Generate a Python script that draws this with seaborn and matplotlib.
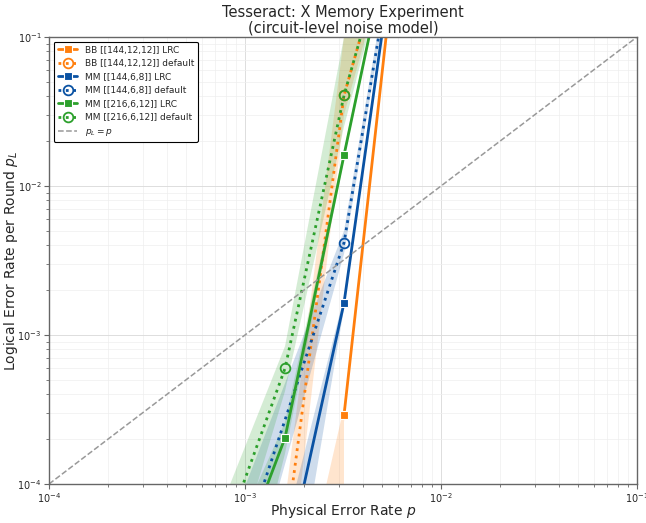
import numpy as np
import pandas as pd
import matplotlib
matplotlib.use("Agg")
import matplotlib.pyplot as plt
import seaborn as sns

nan = np.nan

# ---------------- data ----------------
p_bb_lrc = [0.0016, 0.0032, 0.006]
pl_bb_lrc = [nan, 2.9e-4, 0.49]
lo_bb_lrc = [0.0, 2.6e-4, 0.47]
hi_bb_lrc = [6e-6, 3.3e-4, 0.51]

p_bb_def = [0.0016, 0.0032, 0.006]
pl_bb_def = [4.1e-5, 4.05e-2, 0.75]
lo_bb_def = [1.2e-5, 3.0e-2, 0.6]
hi_bb_def = [7.6e-5, 0.1, 0.95]

p_mm144_lrc = [0.0016, 0.0032, 0.006]
pl_mm144_lrc = [2.6e-5, 1.64e-3, 0.57]
lo_mm144_lrc = [6.8e-6, 1.5e-3, 0.53]
hi_mm144_lrc = [5e-5, 1.8e-3, 0.61]

p_mm144_def = [0.001, 0.0032, 0.006]
pl_mm144_def = [4.2e-5, 4.16e-3, 0.57]
lo_mm144_def = [1.5e-5, 3.5e-3, 0.5]
hi_mm144_def = [9.6e-5, 5.0e-3, 0.65]

p_mm216_lrc = [0.0008, 0.0016, 0.0032, 0.006]
pl_mm216_lrc = [1.84e-5, 2.04e-4, 1.61e-2, 0.8]
lo_mm216_lrc = [4.4e-6, 1.6e-4, 1.5e-2, 0.75]
hi_mm216_lrc = [3.4e-5, 2.6e-4, 1.75e-2, 0.85]

p_mm216_def = [0.0008, 0.0016, 0.0032, 0.006]
pl_mm216_def = [4.8e-5, 5.97e-4, 4.05e-2, 0.75]
lo_mm216_def = [2e-5, 4.2e-4, 2.5e-2, 0.6]
hi_mm216_def = [8.5e-5, 8.4e-4, 0.1, 0.95]

diag_p = [1e-4, 1e-1]

labels = ["BB [[144,12,12]] LRC", "BB [[144,12,12]] default",
          "MM [[144,6,8]] LRC", "MM [[144,6,8]] default",
          "MM [[216,6,12]] LRC", "MM [[216,6,12]] default"]

ORANGE = "#ff7f0e"
BLUE = "#0a52a3"
GREEN = "#2ca02c"

series = [
    (p_bb_lrc, pl_bb_lrc, lo_bb_lrc, hi_bb_lrc, ORANGE, "lrc"),
    (p_bb_def, pl_bb_def, lo_bb_def, hi_bb_def, ORANGE, "def"),
    (p_mm144_lrc, pl_mm144_lrc, lo_mm144_lrc, hi_mm144_lrc, BLUE, "lrc"),
    (p_mm144_def, pl_mm144_def, lo_mm144_def, hi_mm144_def, BLUE, "def"),
    (p_mm216_lrc, pl_mm216_lrc, lo_mm216_lrc, hi_mm216_lrc, GREEN, "lrc"),
    (p_mm216_def, pl_mm216_def, lo_mm216_def, hi_mm216_def, GREEN, "def"),
]

# ---------------- plot ----------------
sns.set_style("ticks")
fig = plt.figure(figsize=(6.46, 5.23), dpi=100)
ax = fig.add_axes([49/646, 1-484/523, (637-49)/646, (484-37)/523])
ax.set_xscale("log")
ax.set_yscale("log")
ax.set_xlim(1e-4, 1e-1)
ax.set_ylim(1e-4, 1e-1)

for (p, pl, lo, hi, col, kind), lab in zip(series, labels):
    ax.fill_between(p, lo, hi, color=col, alpha=0.2, linewidth=0)
    df = pd.DataFrame({"p": p, "pL": pl})
    if kind == "lrc":
        sns.lineplot(data=df, x="p", y="pL", ax=ax, color=col, linewidth=2.0,
                     marker="s", markersize=6, markeredgecolor="white",
                     markeredgewidth=0.8, label=lab, errorbar=None, sort=True)
    else:
        sns.lineplot(data=df, x="p", y="pL", ax=ax, color=col, linewidth=2.0,
                     linestyle=":", marker="o", markersize=7,
                     markerfacecolor="none", markeredgecolor=col,
                     markeredgewidth=1.3, label=lab, errorbar=None, sort=True)

sns.lineplot(x=diag_p, y=diag_p, ax=ax, color="#999999", linewidth=1.1,
             linestyle="--", label="$p_L = p$", errorbar=None)

ax.grid(True, which="major", color="#dddddd", linewidth=0.7)
ax.grid(True, which="minor", color="#eeeeee", linewidth=0.5)
ax.set_axisbelow(True)
for s in ax.spines.values():
    s.set_color("#666666")
    s.set_linewidth(1.0)
ax.tick_params(axis="both", which="major", labelsize=7, color="#666666",
               length=3.5, pad=2)
ax.tick_params(axis="both", which="minor", color="#666666", length=2)

ax.set_xlabel("Physical Error Rate $p$", fontsize=10)
ax.set_ylabel("Logical Error Rate per Round $p_L$", fontsize=10)
ax.xaxis.set_label_coords(0.5, -0.04)
ax.yaxis.set_label_coords(-0.05, 0.5)
ax.set_title("Tesseract: X Memory Experiment\n(circuit-level noise model)",
             fontsize=10.5, pad=3, linespacing=1.1)

h, l = ax.get_legend_handles_labels()
leg = ax.legend(h, l, loc="upper left", fontsize=6.5, frameon=True,
                fancybox=True, framealpha=1, edgecolor="black",
                borderpad=0.45, handlelength=2.2, labelspacing=0.5,
                bbox_to_anchor=(0.0, 1.0))
leg.get_frame().set_linewidth(0.8)

fig.savefig("out.png", dpi=100)
